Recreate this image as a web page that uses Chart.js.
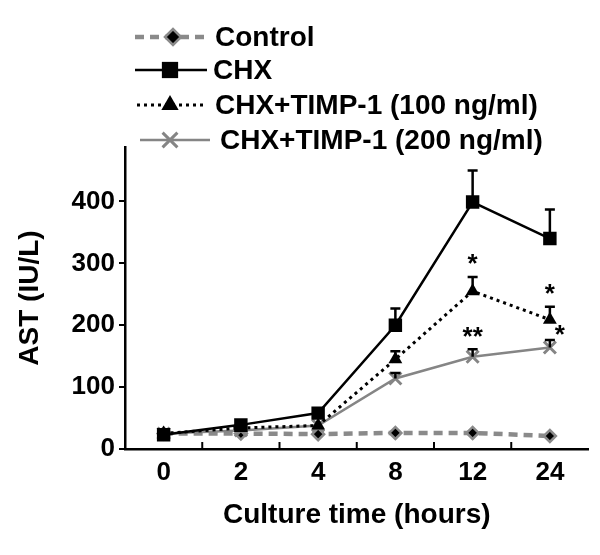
<!DOCTYPE html>
<html>
<head>
<meta charset="utf-8">
<script src="https://cdn.jsdelivr.net/npm/chart.js@4.4.0/dist/chart.umd.min.js"></script>
<style>
  html, body { margin: 0; padding: 0; background: #fff; }
  #wrap { width: 600px; height: 555px; }
</style>
</head>
<body>
<div id="wrap"><canvas id="mycanvas"></canvas></div>
<script>
// data
var hours = ['0', '2', '4', '8', '12', '24'];
var control = [25, 25, 24, 26, 26, 21];
var chx = [23, 39, 58, 200, 399, 340];
var timp100 = [25, 34, 38, 145, 255, 209];
var timp200 = [25, 30, 38, 114, 149, 164];
var chxErr = [0, 0, 0, 27, 51, 47];
var timp100Err = [0, 0, 0, 13, 23, 21];
var timp200Err = [0, 0, 0, 9, 12, 12];
var stars100 = ['', '', '', '', '*', '*'];
var stars200 = ['', '', '', '', '**', '*'];
var legendNames = ['Control', 'CHX', 'CHX+TIMP-1 (100 ng/ml)', 'CHX+TIMP-1 (200 ng/ml)'];

var FONT = "'Liberation Sans', Arial, sans-serif";

// up-only error bars with cap
var errorBars = {
	id: 'errorBars',
	afterDatasetsDraw: function(chart) {
		var ctx = chart.ctx;
		var y = chart.scales.y;
		ctx.save();
		ctx.strokeStyle = '#000';
		ctx.lineWidth = 2.5;
		chart.data.datasets.forEach(function(ds, di) {
			if (!ds.err) return;
			var meta = chart.getDatasetMeta(di);
			meta.data.forEach(function(pt, i) {
				if (!ds.err[i]) return;
				var top = y.getPixelForValue(ds.data[i] + ds.err[i]);
				ctx.beginPath();
				ctx.moveTo(pt.x, pt.y);
				ctx.lineTo(pt.x, top);
				ctx.moveTo(pt.x - 5, top);
				ctx.lineTo(pt.x + 5, top);
				ctx.stroke();
			});
		});
		// significance marks
		ctx.fillStyle = '#000';
		ctx.font = 'bold 26px ' + FONT;
		ctx.textAlign = 'center';
		ctx.textBaseline = 'middle';
		chart.data.datasets.forEach(function(ds, di) {
			if (!ds.stars) return;
			var meta = chart.getDatasetMeta(di);
			meta.data.forEach(function(pt, i) {
				if (!ds.stars[i]) return;
				var top = y.getPixelForValue(ds.data[i] + ds.err[i]);
				if (ds.label === legendNames[3] && i === 5) {
					ctx.fillText(ds.stars[i], pt.x + 10, top - 4);
				} else {
					ctx.fillText(ds.stars[i], pt.x, top - 12);
				}
			});
		});
		// x tick marks pointing into the plot, between categories
		var x = chart.scales.x;
		var bottom = chart.chartArea.bottom;
		ctx.lineWidth = 2;
		for (var k = 1; k < hours.length; k++) {
			var xp = (x.getPixelForValue(k - 1) + x.getPixelForValue(k)) / 2;
			ctx.beginPath();
			ctx.moveTo(xp, bottom);
			ctx.lineTo(xp, bottom - 7);
			ctx.stroke();
		}
		ctx.restore();
	}
};

// legend with line + marker
var lineLegend = {
	id: 'lineLegend',
	afterDraw: function(chart) {
		var ctx = chart.ctx;
		var rows = [
			{y: 37, x0: 135, x1: 210, mx: 173, tx: 215},
			{y: 70, x0: 135, x1: 207, mx: 170, tx: 213},
			{y: 105, x0: 137, x1: 205, mx: 170, tx: 215},
			{y: 140, x0: 140, x1: 210, mx: 170, tx: 220}
		];
		ctx.save();
		chart.data.datasets.forEach(function(ds, i) {
			var r = rows[i];
			ctx.beginPath();
			ctx.strokeStyle = ds.borderColor;
			ctx.lineWidth = ds.borderWidth;
			ctx.setLineDash(ds.borderDash || []);
			ctx.moveTo(r.x0, r.y);
			ctx.lineTo(r.x1, r.y);
			ctx.stroke();
			ctx.setLineDash([]);
			ctx.fillStyle = ds.pointBackgroundColor;
			ctx.strokeStyle = ds.pointBorderColor;
			ctx.lineWidth = ds.pointBorderWidth;
			Chart.helpers.drawPoint(ctx, {
				pointStyle: ds.pointStyle,
				radius: ds.pointRadius + 2,
				borderWidth: ds.pointBorderWidth,
				rotation: 0
			}, r.mx, r.y);
			ctx.fillStyle = '#000';
			ctx.font = 'bold 28px ' + FONT;
			ctx.textAlign = 'left';
			ctx.textBaseline = 'middle';
			ctx.fillText(legendNames[i], r.tx, r.y + 1);
		});
		ctx.restore();
	}
};

var chartdata = {
	labels: hours,
	datasets: [
		{
			label: legendNames[0],
			data: control,
			borderColor: '#8a8a8a',
			borderWidth: 4.5,
			borderDash: [9, 6],
			pointStyle: 'rectRot',
			pointRadius: 6,
			pointBorderWidth: 2.5,
			pointBackgroundColor: '#000',
			pointBorderColor: '#8a8a8a',
			order: 4
		},
		{
			label: legendNames[1],
			data: chx,
			err: chxErr,
			borderColor: '#000',
			borderWidth: 2.5,
			pointStyle: 'rect',
			pointRadius: 9.5,
			pointBorderWidth: 0,
			pointBackgroundColor: '#000',
			pointBorderColor: '#000',
			order: 1
		},
		{
			label: legendNames[2],
			data: timp100,
			err: timp100Err,
			stars: stars100,
			borderColor: '#000',
			borderWidth: 3,
			borderDash: [3, 4],
			pointStyle: 'triangle',
			pointRadius: 8,
			pointBorderWidth: 0,
			pointBackgroundColor: '#000',
			pointBorderColor: '#000',
			order: 2
		},
		{
			label: legendNames[3],
			data: timp200,
			err: timp200Err,
			stars: stars200,
			borderColor: '#858585',
			borderWidth: 2.5,
			pointStyle: 'crossRot',
			pointRadius: 8.5,
			pointBorderWidth: 3,
			pointBackgroundColor: '#858585',
			pointBorderColor: '#858585',
			order: 3
		}
	]
};

var ctx = document.getElementById('mycanvas');

var lineGraph = new Chart(ctx, {
	type: 'line',
	data: chartdata,
	plugins: [errorBars, lineLegend],
	options: {
		responsive: true,
		maintainAspectRatio: false,
		animation: false,
		layout: { padding: { top: 147, right: 10, bottom: 0, left: 0 } },
		plugins: {
			legend: { display: false },
			tooltip: { enabled: false }
		},
		scales: {
			x: {
				offset: true,
				grid: { display: false, drawTicks: false },
				border: { color: '#000', width: 2.5 },
				ticks: {
					color: '#000',
					padding: 8,
					maxRotation: 0,
					font: { family: FONT, size: 26, weight: 'bold' }
				},
				title: {
					display: true,
					text: 'Culture time (hours)',
					color: '#000',
					padding: { top: 0, bottom: 23 },
					font: { family: FONT, size: 28, weight: 'bold' }
				},
				afterFit: function(scale) { scale.height = 106; }
			},
			y: {
				min: 0,
				max: 488,
				grid: { drawOnChartArea: false, color: '#000', tickLength: 6, lineWidth: 2 },
				border: { color: '#000', width: 2.5 },
				ticks: {
					stepSize: 100,
					includeBounds: false,
					color: '#000',
					padding: 4,
					font: { family: FONT, size: 26, weight: 'bold' }
				},
				title: {
					display: true,
					text: 'AST (IU/L)',
					color: '#000',
					padding: { top: 13, bottom: 0 },
					font: { family: FONT, size: 28, weight: 'bold' }
				},
				afterFit: function(scale) { scale.width = 125; }
			}
		}
	}
});
</script>
</body>
</html>
